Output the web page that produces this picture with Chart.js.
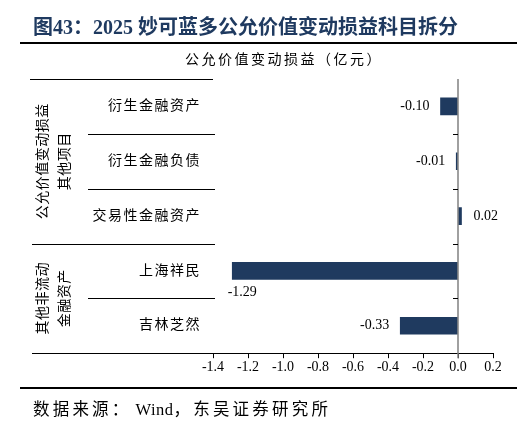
<!DOCTYPE html>
<html>
<head>
<meta charset="utf-8">
<script src="https://cdn.jsdelivr.net/npm/chart.js@4.4.0/dist/chart.umd.min.js"></script>
<style>
  html, body { margin:0; padding:0; background:#fff; }
  #wrap { position:relative; width:526px; height:433px; overflow:hidden; }
  #c { position:absolute; left:0; top:0; }
  .serif { font-family:"Liberation Serif","Noto Sans CJK SC",serif; }
  .title { position:absolute; left:33px; top:16px; font-size:20px; line-height:22px; font-weight:bold; color:#1f3a60; letter-spacing:0; white-space:nowrap; }
  .rule { position:absolute; left:20px; width:497px; height:2px; background:#000; }
  .sub { position:absolute; left:185px; top:51px; font-size:14px; line-height:18px; letter-spacing:2.5px; color:#000; white-space:nowrap; }
  .src { position:absolute; left:33px; top:401px; font-size:16.5px; line-height:18px; letter-spacing:3.2px; color:#000; white-space:nowrap; }
  .src .lat { letter-spacing:0.5px; margin-left:4px; }
</style>
</head>
<body>
<div id="wrap">
  <canvas id="c" width="526" height="433"></canvas>
  <div class="title serif">图43：2025 妙可蓝多公允价值变动损益科目拆分</div>
  <div class="rule" style="top:42px"></div>
  <div class="sub serif">公允价值变动损益（亿元）</div>
  <div class="rule" style="top:387px"></div>
  <div class="src serif">数据来源：<span class="lat">Wind</span>，东吴证券研究所</div>
</div>
<script>
'use strict';

// ---- Données ----
const categories = ['衍生金融资产', '衍生金融负债', '交易性金融资产', '上海祥民', '吉林芝然'];
const values     = [-0.10, -0.01, 0.02, -1.29, -0.33];
const groupSizes = [3, 2];
const groupCol1  = ['公允价值变动损益', '其他非流动'];
const groupCol2  = ['其他项目', '金融资产'];
const xMin = -1.4, xMax = 0.2, xStep = 0.2;

const FONT = "'Liberation Serif','Noto Sans CJK SC',serif";
const BAR  = '#1f3a5f';

const fmt = v => Math.abs(v) < 1e-9 ? '0.0' : v.toFixed(1);

// ---- Tableau de catégories à gauche + axe zéro + étiquettes ----
const tablePlugin = {
  id: 'tableAxis',
  afterDraw(chart) {
    const { ctx, chartArea: ca, scales: { x, y } } = chart;
    const x0 = x.getPixelForValue(0);
    const n = categories.length;
    const rowH = ca.height / n;
    const edge = i => ca.top + i * rowH;

    ctx.save();
    ctx.strokeStyle = '#000'; ctx.lineWidth = 1;
    const hline = (x1, x2, yy) => { ctx.beginPath(); ctx.moveTo(x1, Math.round(yy) + 0.5); ctx.lineTo(x2, Math.round(yy) + 0.5); ctx.stroke(); };

    // lignes du tableau
    hline(30, ca.left, edge(0));
    hline(32, ca.left, edge(n));
    let start = 0;
    groupSizes.forEach((g, gi) => {
      for (let k = 1; k < g; k++) hline(88, ca.left + 2, edge(start + k));
      if (gi < groupSizes.length - 1) hline(32, ca.left + 2, edge(start + g));
      // libellés de groupe (verticaux)
      const cy = (edge(start) + edge(start + g)) / 2;
      ctx.fillStyle = '#000'; ctx.font = '14px ' + FONT;
      ctx.textAlign = 'center'; ctx.textBaseline = 'middle';
      ctx.letterSpacing = '0.5px';
      [[43, groupCol1[gi]], [65, groupCol2[gi]]].forEach(([cx, t]) => {
        ctx.save(); ctx.translate(cx, cy); ctx.rotate(-Math.PI / 2);
        ctx.fillText(t, 0, 0); ctx.restore();
      });
      start += g;
    });

    // libellés de catégories
    ctx.letterSpacing = '1.5px';
    ctx.textAlign = 'right'; ctx.textBaseline = 'middle';
    categories.forEach((c, i) => ctx.fillText(c, 201, y.getPixelForValue(i)));

    // axe zéro + petites graduations
    ctx.letterSpacing = '0px';
    ctx.strokeStyle = '#808080'; ctx.lineWidth = 1.5;
    ctx.beginPath(); ctx.moveTo(x0, ca.top); ctx.lineTo(x0, ca.bottom + 5); ctx.stroke();
    ctx.strokeStyle = '#000'; ctx.lineWidth = 1;
    for (let i = 1; i < n; i++) {
      ctx.beginPath(); ctx.moveTo(x0 - 5, Math.round(edge(i)) + 0.5); ctx.lineTo(x0, Math.round(edge(i)) + 0.5); ctx.stroke();
    }

    // valeurs des barres
    ctx.font = '14px ' + FONT; ctx.fillStyle = '#000'; ctx.textBaseline = 'middle';
    chart.getDatasetMeta(0).data.forEach((el, i) => {
      const v = values[i], t = v.toFixed(2);
      const w = ctx.measureText(t).width;
      if (v >= 0) { ctx.textAlign = 'left'; ctx.fillText(t, el.x + 12, el.y); }
      else if (el.x - 11 - w < ca.left) { ctx.textAlign = 'center'; ctx.fillText(t, el.x + 10, el.y + 21); }
      else { ctx.textAlign = 'right'; ctx.fillText(t, el.x - 11, el.y); }
    });
    ctx.restore();
  }
};

new Chart(document.getElementById('c').getContext('2d'), {
  type: 'bar',
  data: {
    labels: categories,
    datasets: [{ data: values, backgroundColor: BAR, borderWidth: 0, barThickness: 17 }]
  },
  options: {
    indexAxis: 'y',
    responsive: false, animation: false,
    layout: { padding: { top: 79, left: 213, right: 33, bottom: 56 } },
    plugins: { legend: { display: false }, tooltip: { enabled: false } },
    scales: {
      y: { display: false, offset: true },
      x: {
        min: xMin, max: xMax,
        border: { display: true, color: '#000', width: 1 },
        grid: { drawOnChartArea: false, drawTicks: true, tickLength: 5, color: '#000' },
        ticks: { stepSize: xStep, color: '#000', padding: 1, maxRotation: 0,
          font: { family: FONT, size: 14 }, callback: v => fmt(v) }
      }
    }
  },
  plugins: [tablePlugin]
});
</script>
</body>
</html>
